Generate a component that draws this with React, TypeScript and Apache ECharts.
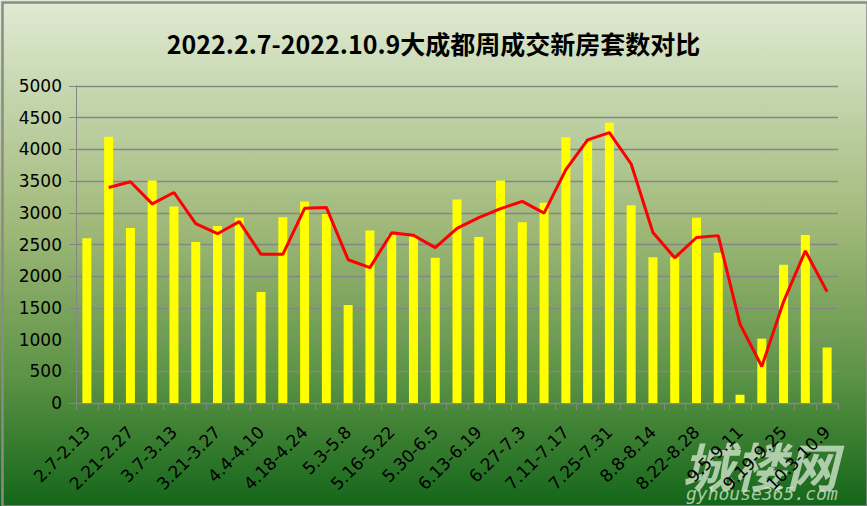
import React, { useEffect, useRef } from "react";
import * as echarts from "echarts";

const categories = [
  "2.7-2.13", "2.14-2.20", "2.21-2.27", "2.28-3.6", "3.7-3.13", "3.14-3.20", "3.21-3.27",
  "3.28-4.3", "4.4-4.10", "4.11-4.17", "4.18-4.24", "4.25-5.2", "5.3-5.8", "5.9-5.15",
  "5.16-5.22", "5.23-5.29", "5.30-6.5", "6.6-6.12", "6.13-6.19", "6.20-6.26", "6.27-7.3",
  "7.4-7.10", "7.11-7.17", "7.18-7.24", "7.25-7.31", "8.1-8.7", "8.8-8.14", "8.15-8.21",
  "8.22-8.28", "8.29-9.4", "9.5-9.11", "9.12-9.18", "9.19-9.25", "9.26-10.2", "10.3-10.9",
];

const weeklySales = [
  2600, 4200, 2760, 3510, 3100, 2540, 2790, 2920, 1750, 2930,
  3180, 2980, 1545, 2720, 2650, 2630, 2290, 3210, 2620, 3510,
  2850, 3160, 4190, 4120, 4420, 3120, 2300, 2300, 2920, 2370,
  130, 1015, 2180, 2650, 875,
];

const trendLine: (number | string)[] = [
  "-", 3400, 3490, 3140, 3320, 2830, 2670, 2860, 2345, 2345,
  3070, 3085, 2260, 2135, 2685, 2645, 2450, 2755, 2925, 3065,
  3180, 2995, 3680, 4150, 4265, 3770, 2690, 2290, 2610, 2640,
  1245, 575, 1600, 2400, 1755,
];

const yTicks = { min: 0, max: 5000, interval: 500 };

const titleText = "2022.2.7-2022.10.9大成都周成交新房套数对比";

export default function App() {
  const ref = useRef<HTMLDivElement>(null);
  useEffect(() => {
    if (!ref.current) return;
    const chart = echarts.init(ref.current, null, { renderer: "svg" });
    chart.setOption({
      animation: false,
      backgroundColor: {
        type: "linear", x: 0, y: 0, x2: 0, y2: 1,
        colorStops: [
          { offset: 0, color: "#e0ebd4" },
          { offset: 0.45, color: "#9fb878" },
          { offset: 0.75, color: "#5a9244" },
          { offset: 1, color: "#14661a" },
        ],
      },
      title: {
        text: titleText,
        left: "center",
        top: 25,
        textStyle: {
          fontFamily: "Noto Sans CJK SC",
          fontWeight: "bold",
          fontSize: 25,
          color: "#000",
        },
      },
      grid: { left: 76, right: 29, top: 86, bottom: 103 },
      xAxis: {
        type: "category",
        data: categories,
        boundaryGap: true,
        axisLine: { lineStyle: { color: "#868686", width: 1 } },
        axisTick: { show: true, interval: 0, length: 7, lineStyle: { color: "#868686" } },
        axisLabel: {
          interval: 1,
          rotate: 45,
          margin: 26,
          fontFamily: "DejaVu Sans",
          fontSize: 17,
          color: "#000",
        },
      },
      yAxis: {
        type: "value",
        min: yTicks.min,
        max: yTicks.max,
        interval: yTicks.interval,
        axisLine: { show: true, lineStyle: { color: "#868686", width: 1 } },
        axisTick: { show: true, length: 7, lineStyle: { color: "#868686" } },
        splitLine: { show: true, lineStyle: { color: "#868686", width: 1.3 } },
        axisLabel: {
          margin: 14,
          fontFamily: "DejaVu Sans",
          fontSize: 17,
          color: "#000",
          formatter: (v: number) => String(v),
        },
      },
      series: [
        {
          type: "bar",
          data: weeklySales,
          barWidth: 9,
          itemStyle: { color: "#ffff00" },
        },
        {
          type: "line",
          data: trendLine,
          showSymbol: false,
          symbol: "none",
          lineStyle: { color: "#ff0000", width: 3 },
          itemStyle: { color: "#ff0000" },
        },
      ],
      graphic: [
        {
          type: "rect",
          left: 0, top: 0,
          shape: { x: 1, y: 1, width: 865, height: 504 },
          style: { fill: "none", stroke: "#8a8a8a", lineWidth: 2.5 },
          silent: true,
        },
        {
          type: "text",
          left: 682, top: 438,
          style: {
            text: "城楼网",
            fontFamily: "Noto Sans CJK SC",
            fontWeight: "bold",
            fontStyle: "italic",
            fontSize: 52,
            fill: "rgba(220,235,215,0.75)",
          },
          silent: true,
        },
        {
          type: "text",
          left: 686, top: 484,
          style: {
            text: "gyhouse365.com",
            fontFamily: "DejaVu Sans Mono",
            fontStyle: "italic",
            fontSize: 18,
            fill: "rgba(220,235,215,0.75)",
          },
          silent: true,
        },
      ],
    });
    return () => chart.dispose();
  }, []);
  return <div ref={ref} style={{ width: 867, height: 506, position: "absolute", left: 0, top: 0 }} />;
}
